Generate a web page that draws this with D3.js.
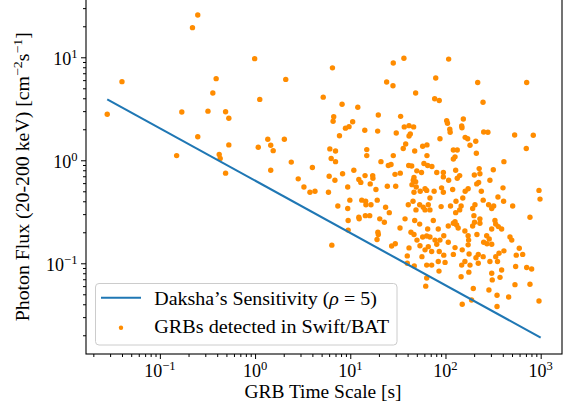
<!DOCTYPE html>
<html><head><meta charset="utf-8">
<script src="https://cdn.jsdelivr.net/npm/d3@7"></script>
<style>body{margin:0;background:#fff}svg{display:block}</style>
</head><body>
<svg id="c" width="564" height="412"></svg>
<script>
// GRB time scales [s]
const grbTime = [
 0.028,0.040,0.22,0.25,0.15,0.17,0.25,0.32,0.36,0.39,
 0.42,0.43,0.49,0.49,0.53,0.53,0.99,1.12,1.08,1.36,
 1.46,1.55,1.46,2.03,2.1,2.4,2.84,6.5,5.2,8.2,
 12.0,28.3,36.6,108,24.1,28.1,48.6,79,77,86,
 218,713,248,19.7,33.8,6.7,6.6,10.6,9.7,8.9,
 14.2,19.4,7.7,30.4,36.9,41.4,46.3,42.7,41.4,38.2,
 36.0,87.5,103,105,111,112,154,148,149,161,
 171,181,208,252,279,533,836,706,211,6.1,
 7.0,14.9,14.9,57.6,63.9,47.5,63.9,121,133,126,
 121,28.3,6.3,7.0,21.0,4.0,25.1,26.8,41.1,44.2,
 59.4,65,72,411,226,318,3.26,3.77,4.26,5.9,
 6.0,6.9,8.3,10.9,12.3,12.9,14.3,17.2,17.3,16.2,
 18.6,24.5,30,29.5,33.5,50,56,46.7,48.6,44.5,
 49.3,54.3,63.5,76,81,95,95,91,95,108,
 128,141,133,119,161,173,213,223,201,230,
 238,293,402,960,9.4,45.9,61,46.7,
 9.9,7.4,9.4,9.5,9.5,6.4,13.2,14.5,14.6,16.5,
 19.2,12.3,12.4,14.4,16.0,23.5,25.7,20.4,22.8,19.5,
 19.7,19.1,27.2,29.7,33.3,37.6,39.7,39.7,47,41.4,
 40.7,45.6,53.6,58.4,49,61,47.5,53.6,43.4,46.7,
 65,57.6,50.2,63.5,54,61,56.6,63.5,
 984,772,508,408,356,321,284,306,249,204,
 193,152,129,146,141,128,113,90,68.7,66,
 68.7,74.5,84,107,121,126,131,136,160,199,
 230,202,193,230,331,337,359,389,306,214,
 173,271,288,252,273,306,175,173,177,150,
 126,107,96,87.5,77.6,81,68.7,66,71.6,86,
 96,121,84,71.6,85.5,99,148,160,181,209,
 221,249,221,176,306,293,337,365,411,352,
 389,476,497,596,554,647,546,713,804,63.5,
 62,146,196,286,310,374,537,772,461,348,150,188,348,960
];
// photon flux (20-200 keV) [cm^-2 s^-1]
const grbFlux = [
 2.8,5.8,19.4,25.7,1.11,2.94,1.69,3.0,4.5,6.2,
 1.14,1.04,0.75,2.96,2.56,1.41,9.7,3.9,1.34,1.6,
 1.40,1.24,0.80,1.6,6.1,0.96,0.66,7.9,4.1,3.5,
 3.27,8.8,9.8,9.6,5.75,5.3,4.5,6.3,3.96,3.8,
 5.7,5.7,3.66,2.75,2.67,2.65,2.39,2.37,2.12,2.05,
 1.96,1.92,1.73,1.84,2.11,2.17,2.11,1.80,1.72,1.44,
 1.30,1.62,2.42,2.29,2.0,1.87,2.52,2.15,2.07,1.67,
 1.62,1.40,1.53,1.88,1.87,1.76,1.75,1.30,1.17,1.29,
 1.23,1.27,1.11,1.37,1.41,1.23,1.11,1.26,1.26,1.08,
 1.03,1.11,1.04,0.97,0.97,0.85,0.89,0.91,0.89,0.88,
 0.93,0.89,0.87,0.97,0.83,0.81,0.55,0.49,0.50,0.49,
 0.70,0.64,0.74,0.80,0.65,0.61,0.71,0.71,0.67,0.59,
 0.52,0.56,0.56,0.73,0.75,0.79,0.76,0.68,0.62,0.58,
 0.55,0.50,0.51,0.50,0.76,0.76,0.69,0.54,0.49,0.64,
 0.80,0.71,0.67,0.52,0.50,0.53,0.59,0.61,0.72,0.74,
 0.50,0.64,0.54,0.51,0.55,0.64,0.53,0.49,
 0.41,0.36,0.34,0.26,0.21,0.15,0.41,0.40,0.37,0.37,
 0.41,0.28,0.27,0.29,0.29,0.35,0.31,0.27,0.25,0.20,
 0.19,0.17,0.147,0.155,0.22,0.27,0.118,0.100,0.094,0.141,
 0.37,0.40,0.37,0.35,0.33,0.33,0.26,0.24,0.20,0.19,
 0.215,0.18,0.168,0.184,0.148,0.135,0.116,0.096,
 0.42,0.28,0.36,0.40,0.44,0.36,0.37,0.34,0.41,0.37,
 0.34,0.43,0.40,0.36,0.33,0.31,0.36,0.355,0.43,0.37,
 0.33,0.26,0.215,0.23,0.245,0.253,0.235,0.22,0.206,0.29,
 0.27,0.25,0.23,0.245,0.26,0.24,0.227,0.215,0.215,0.19,
 0.185,0.185,0.172,0.16,0.155,0.153,0.168,0.151,0.123,0.135,
 0.142,0.16,0.185,0.168,0.168,0.153,0.18,0.145,0.13,0.13,
 0.12,0.122,0.104,0.096,0.084,0.102,0.096,0.104,0.096,0.113,
 0.122,0.116,0.10,0.082,0.080,0.104,0.116,0.125,0.132,0.104,
 0.086,0.18,0.168,0.14,0.12,0.122,0.093,0.091,0.088,0.072,
 0.060,0.074,0.057,0.055,0.069,0.073,0.062,0.0625,0.047,0.049,0.040,0.044,0.038,0.043
];
// Daksha sensitivity line (rho = 5)
const sensTime = [0.028, 1000];
const sensFlux = [3.9, 0.019];

const xTickValues = [0.1, 1, 10, 100, 1000];
const xTickExp = ["\u22121", "0", "1", "2", "3"];
const yTickValues = [0.1, 1, 10];
const yTickExp = ["\u22121", "0", "1"];
const xLimits = [0.01675, 1675];
const yLimits = [0.01316, 36.8];

const legendLabels = ["Daksha\u2019s Sensitivity", "GRBs detected in Swift/BAT"];

const FONT = "'Liberation Serif','Times New Roman',serif";
const box = {left: 86, right: 562, top: -1, bottom: 354};

const svg = d3.select("#c");
const x = d3.scaleLog().domain(xLimits).range([box.left, box.right]);
const y = d3.scaleLog().domain(yLimits).range([box.bottom, box.top]);

// scatter
const pts = d3.range(Math.min(grbTime.length, grbFlux.length)).map(i => [grbTime[i], grbFlux[i]]);
svg.append("g").selectAll("circle").data(pts).join("circle")
  .attr("cx", d => x(d[0])).attr("cy", d => y(d[1])).attr("r", 2.7)
  .attr("fill", "#ff8c00");

// sensitivity line
svg.append("path").datum(d3.zip(sensTime, sensFlux))
  .attr("d", d3.line().x(d => x(d[0])).y(d => y(d[1])))
  .attr("fill", "none").attr("stroke", "#1f77b4").attr("stroke-width", 2.1);

// axes ticks
const xMinor = x.ticks().filter(v => !xTickValues.some(m => Math.abs(m - v) / m < 1e-6));
const yMinor = y.ticks().filter(v => !yTickValues.some(m => Math.abs(m - v) / m < 1e-6));

function styleAxis(g) {
  g.select(".domain").remove();
  g.selectAll("line").attr("stroke", "#000").attr("stroke-width", 1);
}
svg.append("g").attr("transform", `translate(0,${box.bottom})`)
  .call(d3.axisBottom(x).tickValues(xMinor).tickSize(3).tickFormat("")).call(styleAxis);
svg.append("g").attr("transform", `translate(0,${box.bottom})`)
  .call(d3.axisBottom(x).tickValues(xTickValues).tickSize(5).tickFormat("")).call(styleAxis);
svg.append("g").attr("transform", `translate(${box.left},0)`)
  .call(d3.axisLeft(y).tickValues(yMinor).tickSize(3).tickFormat("")).call(styleAxis);
svg.append("g").attr("transform", `translate(${box.left},0)`)
  .call(d3.axisLeft(y).tickValues(yTickValues).tickSize(5).tickFormat("")).call(styleAxis);

// frame
svg.append("rect").attr("x", box.left).attr("y", box.top)
  .attr("width", box.right - box.left).attr("height", box.bottom - box.top)
  .attr("fill", "none").attr("stroke", "#000").attr("stroke-width", 1.1);

function powLabel(sel, exp) {
  sel.append("tspan").text("10");
  sel.append("tspan").attr("dy", -7).attr("font-size", 12.6).text(exp);
}
xTickValues.forEach((v, i) => {
  const t = svg.append("text").attr("x", x(v)).attr("y", box.bottom + 22.7)
    .attr("text-anchor", "middle").attr("font-family", FONT).attr("font-size", 18).attr("fill", "#000");
  powLabel(t, xTickExp[i]);
});
yTickValues.forEach((v, i) => {
  const t = svg.append("text").attr("x", box.left - 8.5).attr("y", y(v) + 7.5)
    .attr("text-anchor", "end").attr("font-family", FONT).attr("font-size", 18).attr("fill", "#000");
  powLabel(t, yTickExp[i]);
});

// axis labels
svg.append("text").attr("x", (box.left + box.right) / 2 - 1).attr("y", 398)
  .attr("text-anchor", "middle").attr("font-family", FONT).attr("font-size", 18)
  .attr("textLength", 157).attr("lengthAdjust", "spacingAndGlyphs")
  .text("GRB Time Scale [s]");

const yl = svg.append("text").attr("transform", "translate(28.5,176.7) rotate(-90)")
  .attr("text-anchor", "middle").attr("font-family", FONT).attr("font-size", 18)
  .attr("textLength", 289).attr("lengthAdjust", "spacingAndGlyphs");
yl.append("tspan").text("Photon Flux (20-200 keV) [cm");
yl.append("tspan").attr("dy", -7).attr("font-size", 12.6).text("\u22122");
yl.append("tspan").attr("dy", 7).text("s");
yl.append("tspan").attr("dy", -7).attr("font-size", 12.6).text("\u22121");
yl.append("tspan").attr("dy", 7).text("]");

// legend
const lg = svg.append("g");
lg.append("rect").attr("x", 95.5).attr("y", 283.5).attr("width", 301.5).attr("height", 61.5)
  .attr("rx", 3.5).attr("fill", "#fff").attr("fill-opacity", 0.8)
  .attr("stroke", "#cccccc").attr("stroke-width", 1);
lg.append("line").attr("x1", 101).attr("x2", 141).attr("y1", 297.7).attr("y2", 297.7)
  .attr("stroke", "#1f77b4").attr("stroke-width", 2.1);
lg.append("circle").attr("cx", 121).attr("cy", 327.7).attr("r", 2.2).attr("fill", "#ff8c00");
const t1 = lg.append("text").attr("x", 154.3).attr("y", 305).attr("font-family", FONT)
  .attr("font-size", 18).attr("textLength", 222.5).attr("lengthAdjust", "spacingAndGlyphs");
t1.append("tspan").text(legendLabels[0] + " (");
t1.append("tspan").attr("font-style", "italic").text("\u03C1");
t1.append("tspan").text(" = 5)");
lg.append("text").attr("x", 154.3).attr("y", 333.3).attr("font-family", FONT)
  .attr("font-size", 18).attr("textLength", 234.7).attr("lengthAdjust", "spacingAndGlyphs")
  .text(legendLabels[1]);
</script>
</body></html>
